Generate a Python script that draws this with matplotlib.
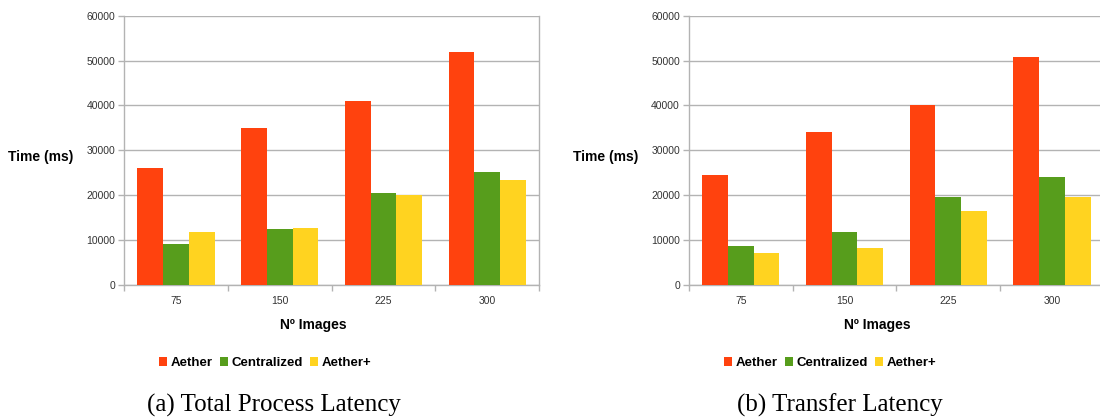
import numpy as np
import matplotlib
matplotlib.use('Agg')
import matplotlib.pyplot as plt
from matplotlib.patches import Patch

# number of images processed
images = ['75', '150', '225', '300']
series = ['Aether', 'Centralized', 'Aether+']
colors = ['#ff420e', '#579d1c', '#ffd320']

# (a) total process latency, ms
total_aether = [26000, 35000, 41000, 52000]
total_central = [9200, 12400, 20500, 25200]
total_plus = [11900, 12800, 20000, 23400]

# (b) transfer latency, ms
transfer_aether = [24500, 34100, 40000, 50900]
transfer_central = [8700, 11900, 19700, 24000]
transfer_plus = [7200, 8300, 16400, 19600]

plt.rcParams['font.family'] = ['Liberation Sans', 'DejaVu Sans']

fig = plt.figure(figsize=(11, 4.17), dpi=100)

W, H = 1100.0, 417.0
ax_w = 414.7 / W
ax_h = 269.3 / H
ax_b = (H - 285.0) / H
panels = [
    (124.3, [total_aether, total_central, total_plus], '(a) Total Process Latency', 274.4, 265.0),
    (689.0, [transfer_aether, transfer_central, transfer_plus], '(b) Transfer Latency', 839.8, 830.0),
]

grid_c = '#b3b3b3'
bw = 0.2486
x = np.arange(len(images))

for left, data, caption, cap_x, leg_x in panels:
    ax = fig.add_axes([left / W, ax_b, ax_w, ax_h])
    for i, vals in enumerate(data):
        ax.bar(x + (i - 1) * bw, vals, width=bw, color=colors[i], zorder=3)

    ax.set_xlim(-0.5, len(images) - 0.5)
    ax.set_ylim(0, 60000)
    ax.set_yticks(np.arange(0, 60001, 10000))
    ax.yaxis.grid(True, color=grid_c, linewidth=1.0, zorder=0)
    for s in ['left', 'right', 'bottom']:
        ax.spines[s].set_color(grid_c)
        ax.spines[s].set_linewidth(1.0)
    ax.spines['top'].set_visible(False)

    # boundaries get tick marks, centres get the labels
    ax.set_xticks(np.arange(-0.5, len(images), 1.0))
    ax.set_xticklabels([])
    ax.set_xticks(x, minor=True)
    ax.set_xticklabels(images, minor=True)
    ax.tick_params(axis='x', which='major', length=4, color=grid_c, width=1)
    ax.tick_params(axis='x', which='minor', length=0, pad=8, labelsize=7.5, labelcolor='#333333')
    ax.tick_params(axis='y', length=4.5, color=grid_c, width=1, pad=2,
                   labelsize=7.5, labelcolor='#333333')

    ax.text(-0.202, 0.476, 'Time (ms)', transform=ax.transAxes, ha='center', va='center',
            fontsize=10, fontweight='bold')
    ax.text(0.455, -0.1485, 'Nº Images', transform=ax.transAxes, ha='center', va='center',
            fontsize=10, fontweight='bold')

    handles = [Patch(facecolor=c, edgecolor='none') for c in colors]
    fig.legend(handles, series, loc='center', bbox_to_anchor=(leg_x / W, (H - 363) / H),
               ncol=3, frameon=False, prop={'weight': 'bold', 'size': 9.5},
               handlelength=0.6, handleheight=0.6, handletextpad=0.27, columnspacing=0.55,
               borderpad=0, borderaxespad=0)

    fig.text(cap_x / W, (H - 405) / H, caption, ha='center', va='center',
             fontsize=18, family=['Liberation Serif', 'DejaVu Serif'])

fig.savefig('out.png', dpi=100)
